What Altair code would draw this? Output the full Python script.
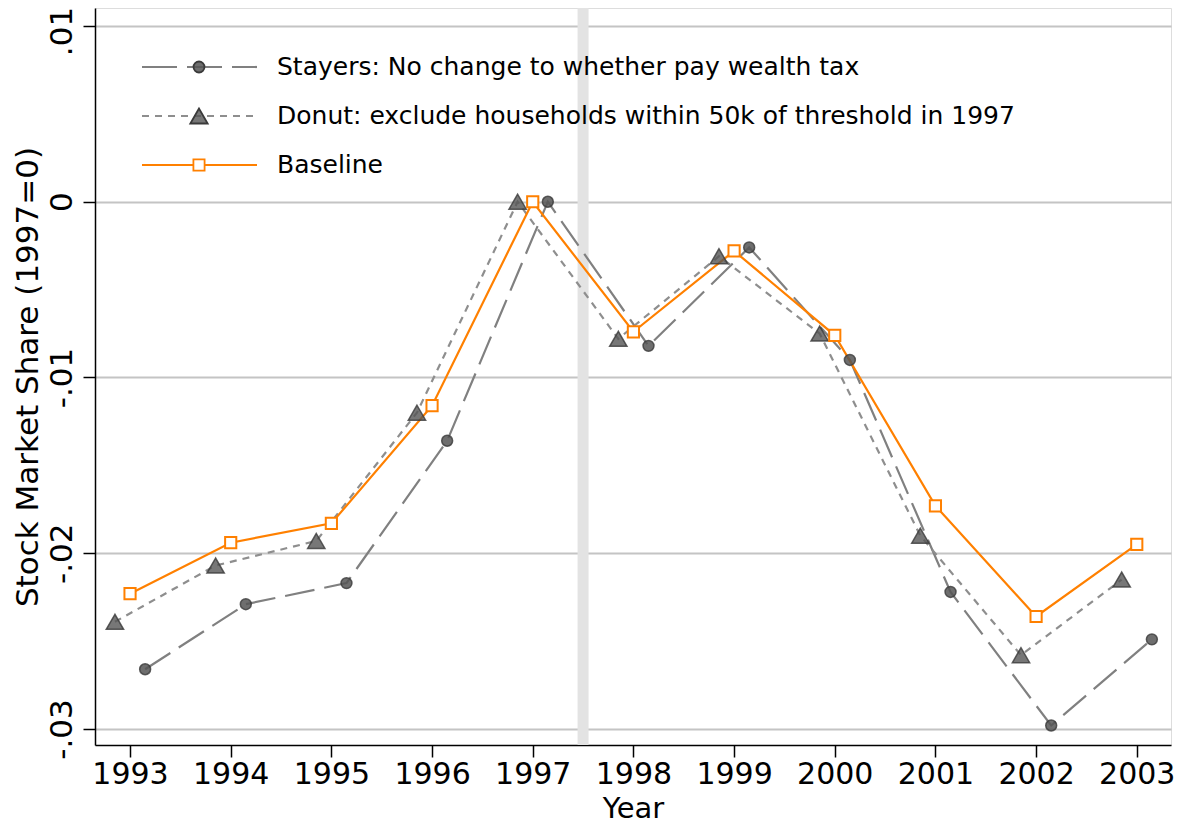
import altair as alt
import pandas as pd

# ---------------- data ----------------
years = [1993, 1994, 1995, 1996, 1997, 1998, 1999, 2000, 2001, 2002, 2003]
stayers = [-0.0266, -0.0229, -0.0217, -0.0136, 0.0000, -0.0082, -0.0026, -0.0090, -0.0222, -0.0298, -0.0249]
donut = [-0.0239, -0.0207, -0.0193, -0.0120, 0.0000, -0.0078, -0.0031, -0.0075, -0.0190, -0.0258, -0.0215]
baseline = [-0.0223, -0.0194, -0.0183, -0.0116, 0.0000, -0.0074, -0.0028, -0.0076, -0.0173, -0.0236, -0.0195]
series_names = [
    "Stayers: No change to whether pay wealth tax",
    "Donut: exclude households within 50k of threshold in 1997",
    "Baseline",
]
y_tick_values = [0.01, 0.0, -0.01, -0.02, -0.03]
y_tick_labels = [".01", "0", "-.01", "-.02", "-.03"]
treatment_year = [1997.5]

# horizontal dodge of the three series (years)
offsets = {"stayers": 0.15, "donut": -0.15, "baseline": 0.0}


def frame(vals, off):
    return pd.DataFrame({"year": years, "pos": [y + off for y in years], "value": vals})


df_st = frame(stayers, offsets["stayers"])
df_dn = frame(donut, offsets["donut"])
df_bl = frame(baseline, offsets["baseline"])
df_band = pd.DataFrame({"pos": treatment_year})

FONT = "DejaVu Sans"

label_expr = "".join(
    f"abs(datum.value - ({v})) < 1e-9 ? '{l}' : " for v, l in zip(y_tick_values, y_tick_labels)
) + "''"

xscale = alt.Scale(domain=[1992.652, 2003.34], nice=False, zero=False)
yscale = alt.Scale(domain=[-0.030911, 0.011024], nice=False, zero=False)

xaxis = alt.Axis(
    values=years, format="d", title="Year", grid=False,
    labelFontSize=30, labelFont=FONT, labelColor="black", labelPadding=2,
    tickSize=12, tickColor="black", tickWidth=1.5,
    domainColor="black", domainWidth=1.5,
    titleFontSize=29, titleFont=FONT, titleFontWeight="normal", titleColor="black",
    titleY=72, titleBaseline="alphabetic",
)
yaxis = alt.Axis(
    values=y_tick_values, labelExpr=label_expr, title="Stock Market Share (1997=0)",
    grid=True, gridColor="#c4c4c4", gridWidth=2,
    labelFontSize=31, labelFont=FONT, labelColor="black", labelAngle=270,
    labelAlign="center", labelBaseline="alphabetic", labelPadding=12,
    labelOffset={"condition": {"test": "datum.value > 0.005", "value": 5}, "value": 0},
    tickSize=12, tickColor="black", tickWidth=1.5,
    domainColor="black", domainWidth=1.5,
    titleFontSize=31, titleFont=FONT, titleFontWeight="normal", titleColor="black",
    titleX=-58, titleBaseline="alphabetic",
)

X = alt.X("pos:Q", scale=xscale, axis=xaxis)
Y = alt.Y("value:Q", scale=yscale, axis=yaxis)

band = alt.Chart(df_band).mark_rule(color="#e3e3e3", strokeWidth=11).encode(
    x=alt.X("pos:Q", scale=xscale, axis=xaxis)
)

ST_LINE = "#808080"
DN_LINE = "#8e8e8e"
ORANGE = "#ff8000"
MK_FILL = "#555555"
MK_STROKE = "#3a3a3a"

line_st = alt.Chart(df_st).mark_line(color=ST_LINE, strokeWidth=2.2, strokeDash=[30, 10]).encode(x=X, y=Y)
line_dn = alt.Chart(df_dn).mark_line(color=DN_LINE, strokeWidth=2.2, strokeDash=[7, 6]).encode(x=X, y=Y)
line_bl = alt.Chart(df_bl).mark_line(color=ORANGE, strokeWidth=2.2).encode(x=X, y=Y)

pt_st = alt.Chart(df_st).mark_point(
    shape="circle", filled=True, size=120, fill=MK_FILL, fillOpacity=0.85,
    stroke=MK_STROKE, strokeWidth=1.5, strokeOpacity=0.8, opacity=1,
).encode(x=X, y=Y)
pt_dn = alt.Chart(df_dn).mark_point(
    shape="triangle-up", filled=True, size=300, fill=MK_FILL, fillOpacity=0.8,
    stroke=MK_STROKE, strokeWidth=1.5, strokeOpacity=0.8, opacity=1,
).encode(x=X, y=Y)
pt_bl = alt.Chart(df_bl).mark_point(
    shape="square", filled=True, size=125, fill="white", fillOpacity=1,
    stroke=ORANGE, strokeWidth=2, opacity=1,
).encode(x=X, y=Y)

# ---------------- legend (inside plot, top-left) ----------------
leg_rows = [59, 108, 157]
leg_x0, leg_x1, leg_mx, leg_tx = 47, 162, 104, 182


def legend_entry(i, dash, color, mshape, msize, mfill, mstroke, mfillop):
    d = pd.DataFrame({"label": [series_names[i]]})
    base = alt.Chart(d)
    line_kw = dict(color=color, strokeWidth=2.2)
    if dash:
        line_kw["strokeDash"] = dash
    rule = base.mark_rule(**line_kw).encode(
        x=alt.value(leg_x0), x2=alt.value(leg_x1), y=alt.value(leg_rows[i])
    )
    mk = base.mark_point(
        shape=mshape, filled=True, size=msize, fill=mfill, fillOpacity=mfillop,
        stroke=mstroke, strokeWidth=1.8, opacity=1,
    ).encode(x=alt.value(leg_mx), y=alt.value(leg_rows[i]))
    txt = base.mark_text(
        align="left", baseline="middle", font=FONT, fontSize=25, color="black"
    ).encode(x=alt.value(leg_tx), y=alt.value(leg_rows[i]), text="label:N")
    return [rule, mk, txt]


legend_layers = (
    legend_entry(0, [35, 10], ST_LINE, "circle", 120, MK_FILL, MK_STROKE, 0.85)
    + legend_entry(1, [7, 6], DN_LINE, "triangle-up", 300, MK_FILL, MK_STROKE, 0.8)
    + legend_entry(2, None, ORANGE, "square", 125, "white", ORANGE, 1)
)

chart = alt.layer(
    band, line_st, line_dn, line_bl, pt_st, pt_dn, pt_bl, *legend_layers
).properties(
    width=1076, height=737,
    autosize=alt.AutoSizeParams(type="none"),
    padding={"left": 87, "top": 0, "right": 6, "bottom": 79},
).configure_view(stroke=None).configure(background="white")

chart.save("out.html", embed_options={"renderer": "svg", "actions": False})
